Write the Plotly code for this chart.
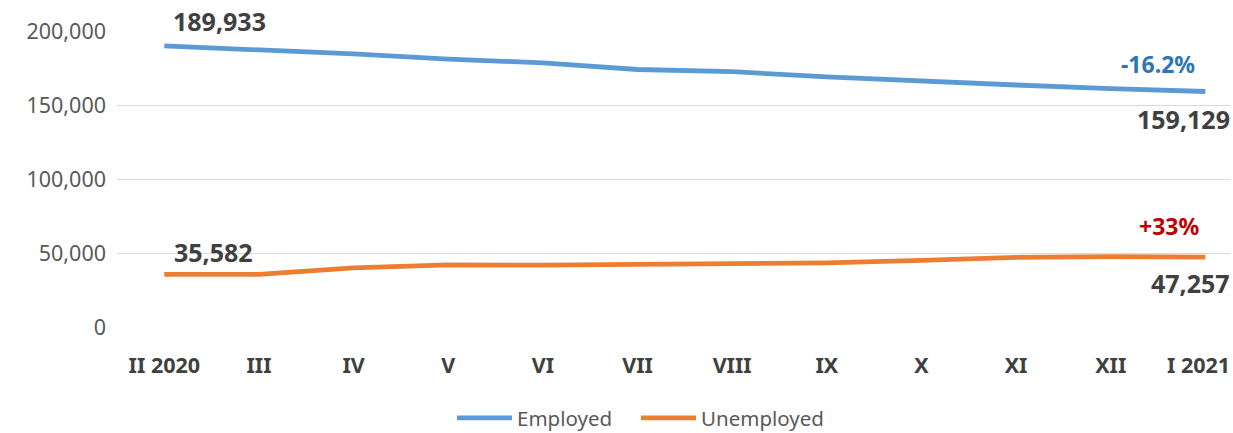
import plotly.graph_objects as go

categories = ["II 2020", "III", "IV", "V", "VI", "VII", "VIII", "IX", "X", "XI", "XII", "I 2021"]
employed = [189933, 187500, 184500, 181000, 178500, 174000, 172500, 169000, 166000, 163500, 161000, 159129]
unemployed = [35582, 35600, 40000, 42000, 41800, 42300, 43200, 43300, 45000, 47000, 47600, 47257]
y_ticks = [0, 50000, 100000, 150000, 200000]

x = list(range(len(categories)))
emp_change = (employed[-1] / employed[0] - 1) * 100
unemp_change = (unemployed[-1] / unemployed[0] - 1) * 100

FONT = "Noto Sans"
fig = go.Figure()
fig.add_trace(go.Scatter(x=x, y=employed, mode="lines", name="Employed",
                         line=dict(color="#5B9BD5", width=4.8), legend="legend"))
fig.add_trace(go.Scatter(x=x, y=unemployed, mode="lines", name="Unemployed",
                         line=dict(color="#ED7D31", width=4.8), legend="legend2"))

tick_font = dict(family=FONT, size=21.5, color="#404040", weight="bold")
lab = dict(family=FONT, size=25, color="#404040", weight="bold")
ann = [
    dict(x=x[0], y=employed[0], text=f"{employed[0]:,}", xshift=55, yshift=25, font=lab),
    dict(x=x[-1], y=employed[-1], text=f"{employed[-1]:,}", xanchor="right", xshift=27, yshift=-28, font=lab),
    dict(x=x[0], y=unemployed[0], text=f"{unemployed[0]:,}", xshift=49, yshift=22, font=lab),
    dict(x=x[-1], y=unemployed[-1], text=f"{unemployed[-1]:,}", xanchor="right", xshift=27, yshift=-26, font=lab),
    dict(x=x[-1], y=employed[-1], text=f"{emp_change:.1f}%", xshift=-47, yshift=27,
         font=dict(family=FONT, size=23, color="#2E75B6", weight="bold")),
    dict(x=x[-1], y=unemployed[-1], text=f"+{unemp_change:.0f}%", xshift=-36, yshift=31,
         font=dict(family=FONT, size=23, color="#C00000", weight="bold")),
]
for a in ann:
    a.update(xref="x", yref="y", showarrow=False, yanchor="middle")
# last category label, kept inside the chart edge as in the original
ann.append(dict(x=x[-1], xref="x", y=0, yref="paper", text=categories[-1], showarrow=False,
                xanchor="right", yanchor="middle", xshift=27, yshift=-37.5, font=tick_font))

tick_text = categories[:-1] + [""]

leg_common = dict(orientation="h", xanchor="left", xref="container", yref="container",
                  y=1 - 418 / 433, yanchor="middle", itemwidth=55,
                  font=dict(family=FONT, size=20.5, color="#595959"))

fig.update_layout(
    width=1233, height=433,
    margin=dict(l=117, r=3, t=31, b=105.5, autoexpand=False),
    paper_bgcolor="white", plot_bgcolor="white",
    annotations=ann,
    showlegend=True,
    legend=dict(leg_common, x=452 / 1233),
    legend2=dict(leg_common, x=636 / 1233),
    xaxis=dict(range=[-0.5, 11.26], tickmode="array", tickvals=x, ticktext=tick_text,
               showgrid=False, zeroline=False, showline=False, ticks="",
               tickfont=tick_font, ticklabelstandoff=23),
    yaxis=dict(range=[0, 200000], tickmode="array", tickvals=y_ticks,
               ticktext=[f"{v:,}" for v in y_ticks],
               showgrid=True, gridcolor="#D9D9D9", gridwidth=1.3, zeroline=False,
               showline=False, ticks="", ticklabelstandoff=10,
               tickfont=dict(family=FONT, size=21.5, color="#595959")),
)
fig.write_html("out.html")
